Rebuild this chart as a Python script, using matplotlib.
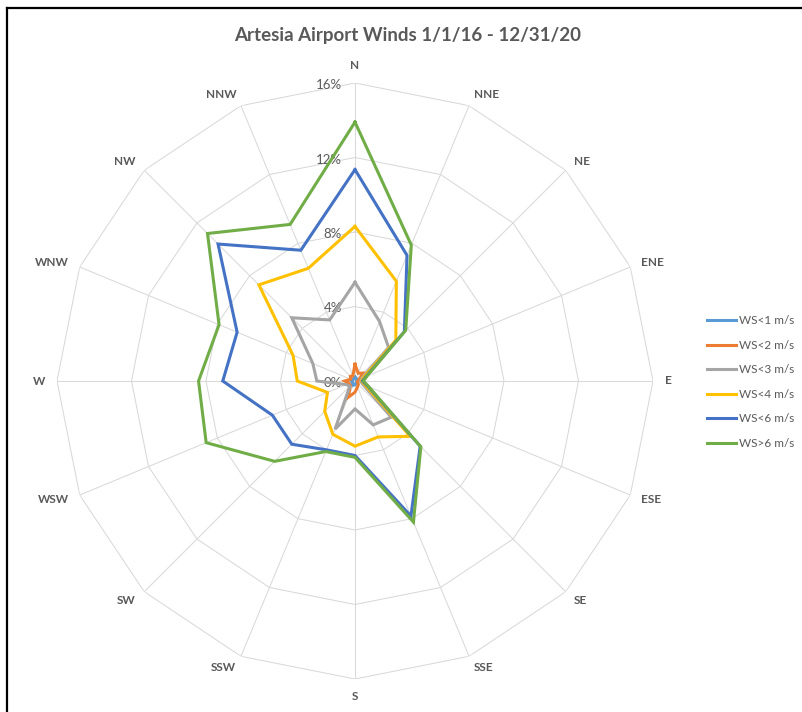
import numpy as np
import matplotlib
matplotlib.use("Agg")
import matplotlib.pyplot as plt
from matplotlib.lines import Line2D

plt.rcParams["font.family"] = ["Lato", "DejaVu Sans"]

# Wind direction sectors, clockwise from north
directions = ["N", "NNE", "NE", "ENE", "E", "ESE", "SE", "SSE",
              "S", "SSW", "SW", "WSW", "W", "WNW", "NW", "NNW"]

# Cumulative frequency (%) per sector for each wind-speed class
ws_lt1 = [0.20, 0.15, 0.15, 0.10, 0.10, 0.10, 0.10, 0.15,
          0.20, 0.25, 0.20, 0.15, 0.20, 0.15, 0.15, 0.15]
ws_lt2 = [0.90, 0.45, 0.60, 0.25, 0.15, 0.15, 0.25, 0.35,
          0.60, 0.95, 0.35, 0.35, 0.55, 0.25, 0.35, 0.30]
ws_lt3 = [5.30, 3.45, 2.55, 0.40, 0.30, 0.45, 2.75, 2.55,
          1.50, 2.80, 0.40, 0.50, 2.05, 2.45, 4.80, 3.55]
ws_lt4 = [8.30, 5.80, 3.10, 0.50, 0.35, 0.60, 4.20, 3.25,
          3.50, 3.10, 2.30, 1.60, 3.10, 3.60, 7.30, 6.55]
ws_lt6 = [11.35, 7.30, 3.75, 0.65, 0.40, 0.75, 4.95, 7.85,
          4.00, 4.00, 4.80, 4.80, 7.10, 6.85, 10.40, 7.60]
ws_gt6 = [13.90, 7.90, 3.85, 0.70, 0.45, 0.80, 5.00, 8.20,
          4.10, 4.10, 6.10, 8.65, 8.40, 7.90, 11.20, 9.10]

series_labels = ["WS<1 m/s", "WS<2 m/s", "WS<3 m/s",
                 "WS<4 m/s", "WS<6 m/s", "WS>6 m/s"]
series_values = [ws_lt1, ws_lt2, ws_lt3, ws_lt4, ws_lt6, ws_gt6]
series_colors = ["#5B9BD5", "#ED7D31", "#A5A5A5",
                 "#FFC000", "#4472C4", "#70AD47"]

ring_values = [0, 4, 8, 12, 16]
ring_labels = ["0%", "4%", "8%", "12%", "16%"]
r_max = 16

title = "Artesia Airport Winds 1/1/16 - 12/31/20"

text_gray = "#595959"
grid_gray = "#D9D9D9"

W, H = 802, 712
fig = plt.figure(figsize=(W / 100, H / 100), dpi=100)

# Radar area: centre (355, 381) px, radius 298 px
cx, cy, rad = 355, 381, 298
ax = fig.add_axes([(cx - rad) / W, (H - cy - rad) / H, 2 * rad / W, 2 * rad / H],
                  projection="polar")
ax.set_theta_zero_location("N")
ax.set_theta_direction(-1)
ax.set_ylim(0, r_max)
ax.grid(False)
ax.set_xticks([])
ax.set_yticks([])
ax.spines["polar"].set_visible(False)
ax.patch.set_visible(False)

n = len(directions)
angles = np.arange(n) * 2 * np.pi / n
closed = np.append(angles, angles[0])

# Polygonal gridlines and spokes
for rv in ring_values[1:]:
    ax.plot(closed, [rv] * (n + 1), color=grid_gray, lw=0.75, zorder=1)
for a in angles:
    ax.plot([a, a], [0, r_max], color=grid_gray, lw=0.75, zorder=1)

# Category labels, anchored just outside each outer vertex
gap = 12
for a, d in zip(angles, directions):
    s, c = np.sin(a), np.cos(a)
    if s > 0.1:
        ha, va = "left", "center"
    elif s < -0.1:
        ha, va = "right", "center"
    else:
        ha = "center"
        va = "bottom" if c > 0 else "top"
    ax.annotate(d, xy=(a, r_max), xytext=(gap * s, gap * c),
                textcoords="offset pixels", ha=ha, va=va, fontsize=8.5,
                fontweight="bold", color=text_gray, annotation_clip=False)

# Radial value labels
for rv, lbl in zip(ring_values, ring_labels):
    ax.annotate(lbl, xy=(0, rv), xytext=(-13, -2), textcoords="offset pixels",
                ha="right", va="center", fontsize=9.5, color=text_gray)

# Data series
handles = []
for vals, lbl, col in zip(series_values, series_labels, series_colors):
    v = np.append(vals, vals[0])
    line, = ax.plot(closed, v, color=col, lw=2.2, label=lbl, zorder=3,
                    solid_joinstyle="miter")
    handles.append(line)

fig.legend(handles=handles, loc="center left",
           bbox_to_anchor=(706.5 / W, (H - 382) / H),
           frameon=False, fontsize=8.5, handlelength=2.5, handletextpad=0.25,
           labelspacing=1.15, borderpad=0, borderaxespad=0,
           labelcolor=text_gray)

fig.text(408 / W, 1 - 35 / H, title, ha="center", va="center",
         fontsize=13.5, fontweight="bold", color=text_gray)

# Chart border (top and left edges)
fig.add_artist(Line2D([6.5 / W, 1], [1 - 8 / H, 1 - 8 / H],
                      transform=fig.transFigure, color="black", lw=1.6))
fig.add_artist(Line2D([6.5 / W, 6.5 / W], [0, 1 - 8 / H],
                      transform=fig.transFigure, color="black", lw=1.6))

fig.savefig("out.png", dpi=100)
